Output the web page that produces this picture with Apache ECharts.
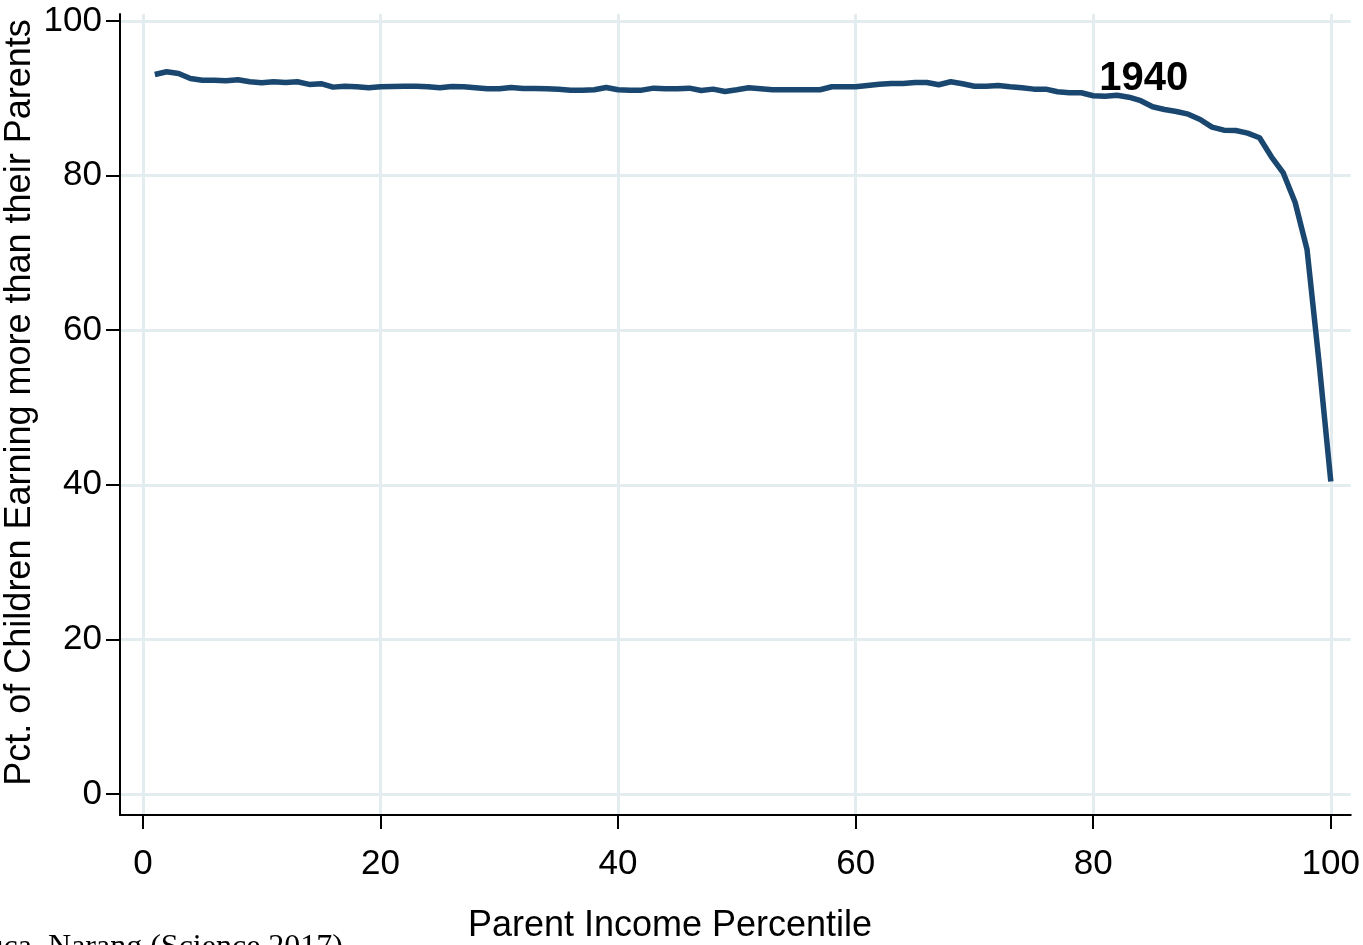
<!DOCTYPE html>
<html><head><meta charset="utf-8">
<script src="https://cdn.jsdelivr.net/npm/echarts@6/dist/echarts.min.js"></script>
<style>html,body{margin:0;padding:0;background:#fff}#c{width:1363px;height:945px}</style>
</head><body><div id="c"></div>
<script>
const percentiles = [1,2,3,4,5,6,7,8,9,10,11,12,13,14,15,16,17,18,19,20,
  21,22,23,24,25,26,27,28,29,30,31,32,33,34,35,36,37,38,39,40,
  41,42,43,44,45,46,47,48,49,50,51,52,53,54,55,56,57,58,59,60,
  61,62,63,64,65,66,67,68,69,70,71,72,73,74,75,76,77,78,79,80,
  81,82,83,84,85,86,87,88,89,90,91,92,93,94,95,96,97,98,99,100];
const pctEarningMore = [93.07,93.43,93.21,92.56,92.34,92.34,92.26,92.39,92.13,92.00,
  92.13,92.04,92.13,91.79,91.88,91.44,91.56,91.49,91.36,91.50,
  91.53,91.56,91.56,91.49,91.36,91.53,91.49,91.36,91.23,91.23,
  91.40,91.27,91.27,91.23,91.18,91.05,91.05,91.10,91.40,91.10,
  91.05,91.05,91.31,91.23,91.23,91.31,91.01,91.18,90.88,91.10,
  91.36,91.23,91.10,91.10,91.10,91.10,91.10,91.49,91.49,91.49,
  91.66,91.82,91.91,91.91,92.04,92.04,91.75,92.13,91.88,91.56,
  91.56,91.66,91.49,91.36,91.18,91.18,90.84,90.71,90.71,90.32,
  90.27,90.40,90.14,89.68,88.90,88.55,88.29,87.94,87.26,86.26,
  85.87,85.83,85.49,84.89,82.43,80.34,76.52,70.44,56.00,40.43];
const xTicks = [0,20,40,60,80,100];
const yTicks = [0,20,40,60,80,100];
const cohortLabel = '1940';
const cohortLabelAt = [80.5, 92.5];
const xTitle = 'Parent Income Percentile';
const yTitle = 'Pct. of Children Earning more than their Parents';
const sourceNote = 'Source: Chetty, Grusky, Hell, Hendren, Manduca, Narang (Science 2017)';

const FONT = "'Liberation Sans', Arial, Helvetica, sans-serif";
const chart = echarts.init(document.getElementById('c'), null, {renderer:'canvas'});
const axisCommon = {
  type: 'value',
  axisLine: {show: true, onZero: false, lineStyle: {color: '#000', width: 2}},
  axisTick: {show: true, length: 14, lineStyle: {color: '#000', width: 2}},
  splitLine: {show: true, lineStyle: {color: '#e3ecef', width: 3}},
};
chart.setOption({
  animation: false,
  backgroundColor: '#fff',
  grid: {left: 120, right: 11, top: 14, bottom: 130},
  xAxis: Object.assign({}, axisCommon, {
    min: -1.93, max: 101.68,
    axisTick: Object.assign({}, axisCommon.axisTick, {customValues: xTicks}),
    axisLabel: {customValues: xTicks, margin: 32, fontSize: 35, color: '#000', fontFamily: FONT}
  }),
  yAxis: Object.assign({}, axisCommon, {
    min: -2.72, max: 100.9,
    axisTick: Object.assign({}, axisCommon.axisTick, {customValues: yTicks}),
    axisLabel: {customValues: yTicks, margin: 18, fontSize: 35, color: '#000', fontFamily: FONT,
      padding: [7, 0, 0, 0]}
  }),
  series: [
    {
      type: 'line',
      data: percentiles.map((p, i) => [p, pctEarningMore[i]]),
      showSymbol: false,
      symbol: 'none',
      lineStyle: {color: '#1a476f', width: 5.5, join: 'round'},
      z: 3
    },
    {
      type: 'scatter',
      data: [cohortLabelAt],
      symbolSize: 0,
      itemStyle: {opacity: 1},
      label: {show: true, formatter: cohortLabel, position: 'right', distance: 0,
        fontSize: 40, fontWeight: 'bold', color: '#000', opacity: 1, fontFamily: FONT},
      z: 4
    }
  ],
  graphic: [
    {type: 'text', x: 670, y: 926.5,
      style: {text: xTitle, fill: '#000', font: "36px " + FONT, align: 'center', verticalAlign: 'middle'}},
    {type: 'text', x: 20.5, y: 402.5, rotation: Math.PI / 2,
      style: {text: yTitle, fill: '#000', font: "36px " + FONT, align: 'center', verticalAlign: 'middle'}},
    {type: 'text', x: 343, y: 947.7,
      style: {text: sourceNote, fill: '#000', font: "32px 'Liberation Serif', 'Times New Roman', serif", align: 'right', verticalAlign: 'middle'}}
  ]
});
</script>
</body></html>
